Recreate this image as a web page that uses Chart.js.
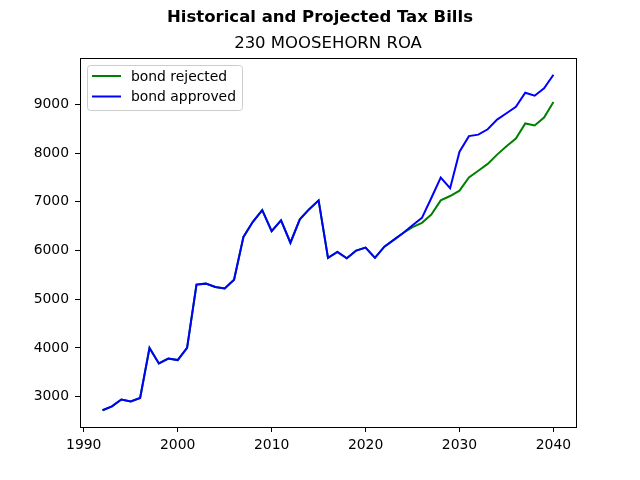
<!DOCTYPE html>
<html>
<head>
<meta charset="utf-8">
<title>Historical and Projected Tax Bills</title>
<script src="https://cdn.jsdelivr.net/npm/chart.js@4.4.1/dist/chart.umd.min.js"></script>
<style>
  html, body { margin: 0; padding: 0; background: #fff; }
  #wrap { width: 640px; height: 480px; }
</style>
</head>
<body>
<div id="wrap"><canvas id="chart" width="640" height="480"></canvas></div>
<script>
// years 1992..2040
const years = [
  1992, 1993, 1994, 1995, 1996, 1997, 1998, 1999, 2000, 2001,
  2002, 2003, 2004, 2005, 2006, 2007, 2008, 2009, 2010, 2011,
  2012, 2013, 2014, 2015, 2016, 2017, 2018, 2019, 2020, 2021,
  2022, 2023, 2024, 2025, 2026, 2027, 2028, 2029, 2030, 2031,
  2032, 2033, 2034, 2035, 2036, 2037, 2038, 2039, 2040
];

// shared history, 1992..2024
const historical = [
  2720, 2800, 2940, 2900, 2970, 4000, 3680, 3780, 3750, 4000,
  5300, 5320, 5250, 5220, 5400, 6280, 6590, 6830, 6400, 6620,
  6160, 6640, 6850, 7030, 5850, 5970, 5840, 6000, 6060, 5850,
  6080, 6220, 6360
];

// projections, 2025..2040
const projRejected = [
  6480, 6570, 6740, 7030, 7120, 7230, 7500, 7640,
  7780, 7970, 8140, 8300, 8610, 8570, 8730, 9050
];
const projApproved = [
  6520, 6670, 7080, 7500, 7280, 8030, 8350, 8380,
  8490, 8690, 8820, 8950, 9240, 9180, 9330, 9610
];

const xTicks = [1990, 2000, 2010, 2020, 2030, 2040];
const yTicks = [3000, 4000, 5000, 6000, 7000, 8000, 9000];

const mainTitle = 'Historical and Projected Tax Bills';
const subTitle = '230 MOOSEHORN ROA';

const rejected = historical.concat(projRejected);
const approved = historical.concat(projApproved);

const toPoints = (vals) => vals.map((v, i) => ({ x: years[i], y: v }));

// matplotlib style 5% margins
function padRange(lo, hi) {
  const m = (hi - lo) * 0.05;
  return [lo - m, hi + m];
}
const [xMin, xMax] = padRange(years[0], years[years.length - 1]);
const allVals = rejected.concat(approved);
const [yMin, yMax] = padRange(Math.min(...allVals), Math.max(...allVals));

const FONT = '"DejaVu Sans", Verdana, sans-serif';

// titles, axes frame and legend box
const decorations = {
  id: 'decorations',
  afterDraw(chart) {
    const ctx = chart.ctx;
    const a = chart.chartArea;
    ctx.save();

    ctx.strokeStyle = '#000';
    ctx.lineWidth = 1;
    ctx.strokeRect(Math.round(a.left) + 0.5, Math.round(a.top) + 0.5,
      Math.round(a.right - a.left), Math.round(a.bottom - a.top));

    ctx.fillStyle = '#000';
    ctx.textAlign = 'center';
    ctx.textBaseline = 'alphabetic';
    ctx.font = 'bold 16.5px ' + FONT;
    ctx.fillText(mainTitle, 320, 22);
    ctx.font = '16.5px ' + FONT;
    ctx.fillText(subTitle, (a.left + a.right) / 2, 48);

    // legend
    const bx = 87.5, by = 65.5, bw = 155, bh = 45;
    ctx.beginPath();
    ctx.roundRect(bx, by, bw, bh, 3);
    ctx.fillStyle = 'rgba(255,255,255,0.8)';
    ctx.fill();
    ctx.strokeStyle = '#cccccc';
    ctx.lineWidth = 1;
    ctx.stroke();

    ctx.font = '13.9px ' + FONT;
    ctx.textAlign = 'left';
    ctx.textBaseline = 'middle';
    chart.data.datasets.forEach((ds, i) => {
      const ly = 76 + i * 20.5;
      ctx.beginPath();
      ctx.moveTo(92, ly);
      ctx.lineTo(121, ly);
      ctx.strokeStyle = ds.borderColor;
      ctx.lineWidth = 2;
      ctx.stroke();
      ctx.fillStyle = '#000';
      ctx.fillText(ds.label, 131, ly + 1);
    });
    ctx.restore();
  }
};

const ctx = document.getElementById('chart').getContext('2d');
new Chart(ctx, {
  type: 'line',
  data: {
    datasets: [
      {
        label: 'bond rejected',
        data: toPoints(rejected),
        borderColor: '#008000',
        borderWidth: 2,
        pointRadius: 0,
        tension: 0,
        fill: false,
        order: 1
      },
      {
        label: 'bond approved',
        data: toPoints(approved),
        borderColor: '#0000ff',
        borderWidth: 2,
        pointRadius: 0,
        tension: 0,
        fill: false,
        order: 0
      }
    ]
  },
  options: {
    responsive: false,
    devicePixelRatio: 1,
    animation: false,
    layout: { padding: { top: 58, right: 64, left: 0, bottom: 0 } },
    plugins: {
      legend: { display: false },
      title: { display: false },
      tooltip: { enabled: false }
    },
    scales: {
      x: {
        type: 'linear',
        min: xMin,
        max: xMax,
        afterBuildTicks: (scale) => { scale.ticks = xTicks.map(v => ({ value: v })); },
        afterFit: (scale) => { scale.height = 53; },
        grid: { drawOnChartArea: false, drawTicks: true, tickLength: 5, tickColor: '#000' },
        border: { display: false },
        ticks: {
          color: '#000',
          padding: 5,
          maxRotation: 0,
          font: { family: FONT, size: 13.9 },
          callback: (v) => String(v)
        }
      },
      y: {
        type: 'linear',
        min: yMin,
        max: yMax,
        afterBuildTicks: (scale) => { scale.ticks = yTicks.map(v => ({ value: v })); },
        afterFit: (scale) => { scale.width = 80; },
        grid: { drawOnChartArea: false, drawTicks: true, tickLength: 5, tickColor: '#000' },
        border: { display: false },
        ticks: {
          color: '#000',
          padding: 6,
          font: { family: FONT, size: 13.9 },
          callback: (v) => String(v)
        }
      }
    }
  },
  plugins: [decorations]
});
</script>
</body>
</html>
